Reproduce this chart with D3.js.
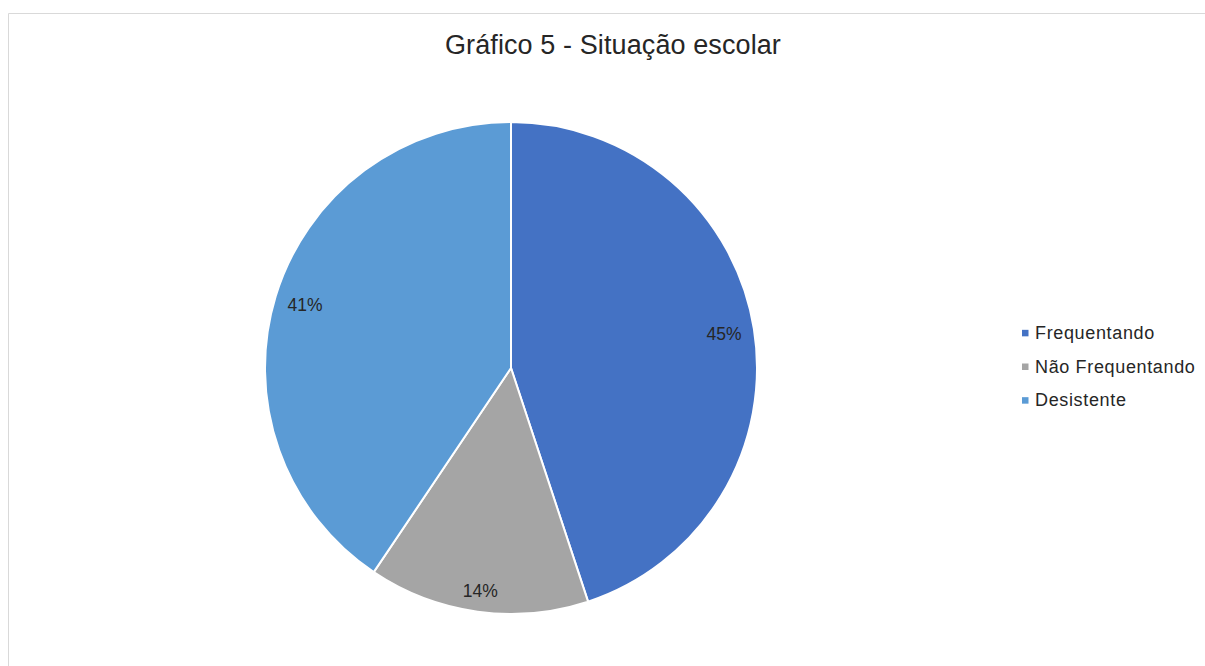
<!DOCTYPE html>
<html><head><meta charset="utf-8">
<script src="https://cdn.jsdelivr.net/npm/d3@7"></script>
<style>html,body{margin:0;padding:0;background:#fff;}svg{display:block;}</style>
</head><body>
<svg id="c" width="1205" height="666"></svg>
<script>
const title = "Gráfico 5 - Situação escolar";
const categories = ["Frequentando", "Não Frequentando", "Desistente"];
const values = [31, 10, 28];
const colors = ["#4472C4", "#A5A5A5", "#5B9BD5"];

const svg = d3.select("#c");
const font = "'Liberation Sans', Arial, sans-serif";

svg.append("path").attr("d", `M8.5,666 L8.5,13.5 L1205,13.5`)
  .attr("fill", "none").attr("stroke", "#d9d9d9").attr("stroke-width", 1);

svg.append("text").attr("x", 613).attr("y", 54).attr("text-anchor", "middle")
  .attr("font-family", font).attr("font-size", 27).attr("letter-spacing", 0.1)
  .attr("fill", "#262626").text(title);

const cx = 511, cy = 368, R = 246;
const data = categories.map((c, i) => ({cat: c, v: values[i], color: colors[i]}));
const pie = d3.pie().value(d => d.v).sort(null);
const arcs = pie(data);
const arc = d3.arc().innerRadius(0).outerRadius(R);
const g = svg.append("g").attr("transform", `translate(${cx},${cy})`);
g.selectAll("path").data(arcs).join("path")
  .attr("d", arc).attr("fill", d => d.data.color)
  .attr("stroke", "#fff").attr("stroke-width", 2);

const total = d3.sum(values);
const pad = 12;
g.selectAll("text.lbl").data(arcs).join("text").attr("class", "lbl")
  .attr("text-anchor", "middle").attr("dominant-baseline", "central")
  .attr("font-family", font).attr("font-size", 17.5).attr("fill", "#262626")
  .text(d => Math.round(d.data.v / total * 100) + "%")
  .each(function(d) {
    const b = this.getBBox();
    const w = b.width / 2, h = 6.5;
    const a = (d.startAngle + d.endAngle) / 2;
    const r = R - pad - (w * Math.abs(Math.sin(a)) + h * Math.abs(Math.cos(a)));
    d3.select(this).attr("transform", `translate(${r * Math.sin(a)},${-r * Math.cos(a)})`);
  });

const ly = d3.scaleBand().domain(categories).range([316, 417]);
const lg = svg.append("g");
categories.forEach((c, i) => {
  const y = ly(c) + ly.bandwidth() / 2;
  lg.append("rect").attr("x", 1022).attr("y", y - 3).attr("width", 6.5).attr("height", 6.5).attr("fill", colors[i]);
  lg.append("text").attr("x", 1035).attr("y", y).attr("dominant-baseline", "central")
    .attr("font-family", font).attr("font-size", 18).attr("letter-spacing", 0.65)
    .attr("fill", "#262626").text(c);
});
</script>
</body></html>
